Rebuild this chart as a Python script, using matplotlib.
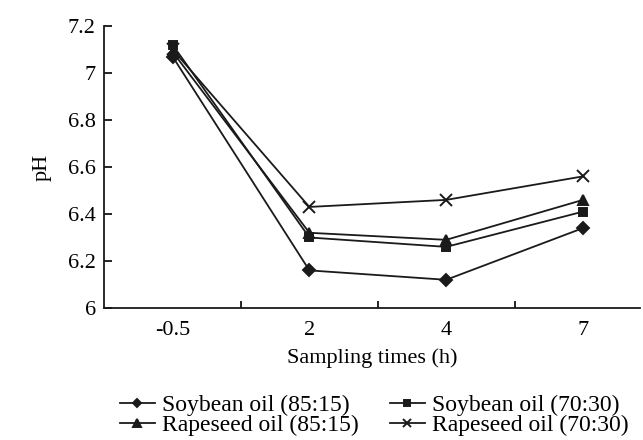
import matplotlib

matplotlib.use("Agg")
import matplotlib.pyplot as plt

plt.rcParams["font.family"] = ["Liberation Serif", "DejaVu Serif"]

# sampling times (categorical)
times = ["-0.5", "2", "4", "7"]
soy_85 = [7.07, 6.16, 6.12, 6.34]
soy_70 = [7.12, 6.30, 6.26, 6.41]
rape_85 = [7.09, 6.32, 6.29, 6.46]
rape_70 = [7.10, 6.43, 6.46, 6.56]

series = [
    ("Soybean oil (85:15)", soy_85, "D", 6),
    ("Soybean oil (70:30)", soy_70, "s", 6),
    ("Rapeseed oil (85:15)", rape_85, "^", 7),
    ("Rapeseed oil (70:30)", rape_70, "x", 8),
]

fig = plt.figure(figsize=(6.43, 4.40), dpi=100)
ax = fig.add_axes([0.162, 0.30, 0.834, 0.641])

xs = list(range(len(times)))
handles = {}
for name, ys, mk, ms in series:
    h, = ax.plot(xs, ys, "-", marker=mk, ms=ms, color="#1a1a1a", lw=1.3,
                 mew=1.4, label=name)
    handles[name] = h

ax.set_xlim(-0.5, 3.42)
ax.set_ylim(6, 7.2)
ax.set_yticks([6, 6.2, 6.4, 6.6, 6.8, 7, 7.2])
ax.set_yticklabels(["6", "6.2", "6.4", "6.6", "6.8", "7", "7.2"])
ax.set_xticks(xs)
ax.set_xticklabels(times)
ax.tick_params(axis="x", length=0, labelsize=16, pad=9)
ax.set_xticks([0.5, 1.5, 2.5], minor=True)
ax.tick_params(axis="x", which="minor", direction="in", length=5, width=1.2)
ax.tick_params(axis="y", direction="in", length=6, width=1.2, labelsize=16, pad=6)

for s in ("top", "right"):
    ax.spines[s].set_visible(False)
for s in ("left", "bottom"):
    ax.spines[s].set_linewidth(1.3)
    ax.spines[s].set_color("#1a1a1a")

ax.set_xlabel("Sampling times (h)", fontsize=16, labelpad=6)
ax.set_ylabel("pH", fontsize=16, labelpad=12)

# legend fills column-first: left column 85:15, right column 70:30
order = ["Soybean oil (85:15)", "Rapeseed oil (85:15)",
         "Soybean oil (70:30)", "Rapeseed oil (70:30)"]
fig.legend([handles[k] for k in order], order, ncol=2, frameon=False,
           fontsize=17, loc="lower left", bbox_to_anchor=(0.153, -0.04),
           handlelength=1.5, columnspacing=1.3, labelspacing=-0.05,
           handletextpad=0.3, markerscale=0.75)

fig.savefig("out.png", dpi=100)
